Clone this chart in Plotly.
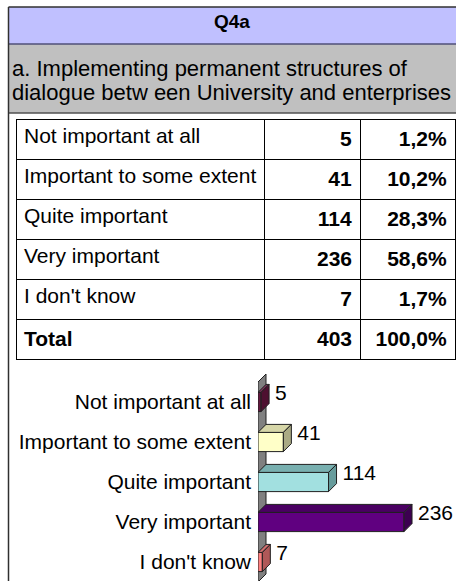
import plotly.graph_objects as go

W, H = 456, 581

# data
title = "Q4a"
subtitle_lines = ["a. Implementing permanent structures of",
                  "dialogue betw een University and enterprises"]
categories = ["Not important at all", "Important to some extent",
              "Quite important", "Very important", "I don't know"]
counts = [5, 41, 114, 236, 7]
front_colors = ["#64183F", "#FFFFC8", "#A2E0E0", "#600080", "#FF8080"]
top_colors = ["#7A3358", "#D6D6A8", "#79B0B0", "#4A0062", "#D07070"]
side_colors = ["#4E1030", "#AAAA84", "#679C9C", "#3C0050", "#B05858"]

total = sum(counts)
pct = [f"{c / total * 100:.1f}".replace(".", ",") + "%" for c in counts]
pct_total = "100,0%"

FONT = "Arial, Liberation Sans, sans-serif"


def py(px):
    # pixel row from top -> paper y
    return 1 - px / H


def px_x(px):
    return px / W


fig = go.Figure()

# ---- table (first data row goes in the header slot so no extra band shows) ----
# non-breaking spaces keep plotly from wrapping the long label
col_labels = [c.replace(" ", "\u00a0") for c in categories] + ["<b>Total</b>"]
col_counts = [f"<b>{c}</b>" for c in counts] + [f"<b>{total}</b>"]
col_pct = [f"<b>{p}</b>" for p in pct] + [f"<b>{pct_total}</b>"]
cols = [col_labels, col_counts, col_pct]
cell_style = dict(align=["left", "right", "right"], height=40,
                  fill_color="white",
                  line=dict(color="black", width=1),
                  font=dict(family=FONT, size=21, color="black"))
fig.add_trace(go.Table(
    domain=dict(x=[px_x(16), px_x(455)], y=[py(361), py(119)]),
    columnwidth=[248, 96, 95],
    header=dict(values=[c[0] for c in cols], **cell_style),
    cells=dict(values=[c[1:] for c in cols], **cell_style),
))

# ---- 3d bar chart ----
xmax = 320
plot_x0 = 258
ppu = (W - plot_x0) / xmax
depth_px = 8
dx = depth_px / ppu
dy = depth_px / 40
bw = 0.48
ys = list(range(len(categories)))

for i, (v, ct, cs) in enumerate(zip(counts, top_colors, side_colors)):
    yt = i - bw / 2
    yb = i + bw / 2
    fig.add_trace(go.Scatter(
        x=[0, dx, v + dx, v, 0], y=[yt, yt - dy, yt - dy, yt, yt],
        fill="toself", fillcolor=ct, mode="lines",
        line=dict(color="#202020", width=1), hoverinfo="skip"))
    fig.add_trace(go.Scatter(
        x=[v, v + dx, v + dx, v, v], y=[yt, yt - dy, yb - dy, yb, yt],
        fill="toself", fillcolor=cs, mode="lines",
        line=dict(color="#202020", width=1), hoverinfo="skip"))

fig.add_trace(go.Bar(
    x=counts, y=ys, orientation="h", width=bw,
    marker=dict(color=front_colors, line=dict(color="#202020", width=1)),
    hoverinfo="skip"))

gap = 6 / ppu
fig.add_trace(go.Scatter(
    x=[v + dx + gap for v in counts], y=[i - 0.18 for i in ys],
    mode="text", text=[str(v) for v in counts], textposition="middle right",
    textfont=dict(family=FONT, size=21, color="black"), hoverinfo="skip",
    cliponaxis=False))

# axis wall
fig.add_shape(type="path", xref="x", yref="y", layer="below",
              path=f"M 0,4.5 L 0,-0.5 L {dx},-0.7 L {dx},4.3 Z",
              fillcolor="#808080", line=dict(color="#202020", width=1))

fig.update_xaxes(domain=[px_x(plot_x0), 1], range=[0, xmax], visible=False,
                 fixedrange=True)
fig.update_yaxes(domain=[0, py(372)], range=[4.475, -0.75],
                 tickvals=ys, ticktext=categories, showgrid=False,
                 zeroline=False, showline=False, ticks="",
                 ticklabelstandoff=6,
                 tickfont=dict(family=FONT, size=21, color="black"),
                 automargin=False)

# ---- frame, header bands ----
fig.add_shape(type="rect", xref="paper", yref="paper", layer="below",
              x0=px_x(8.5), x1=1.01, y0=py(44), y1=py(7),
              fillcolor="#C0C0FF", line=dict(width=0))
fig.add_shape(type="rect", xref="paper", yref="paper", layer="below",
              x0=px_x(8.5), x1=1.01, y0=py(113), y1=py(44),
              fillcolor="#C0C0C0", line=dict(width=0))
for yy, col in [(7, "#303030"), (44, "#505078"), (113, "#505050")]:
    fig.add_shape(type="line", xref="paper", yref="paper",
                  x0=px_x(8.5), x1=1.01, y0=py(yy), y1=py(yy),
                  line=dict(color=col, width=1.5))
fig.add_shape(type="line", xref="paper", yref="paper",
              x0=px_x(8.5), x1=px_x(8.5), y0=0, y1=py(7),
              line=dict(color="#303030", width=1.5))

fig.add_annotation(xref="paper", yref="paper", x=px_x(232), y=py(21),
                   text=f"<b>{title}</b>", showarrow=False,
                   font=dict(family=FONT, size=19, color="black"),
                   xanchor="center", yanchor="middle")
for k, line in enumerate(subtitle_lines):
    fig.add_annotation(xref="paper", yref="paper", x=px_x(10), y=py(69 + 23 * k),
                       text=line, showarrow=False,
                       font=dict(family=FONT, size=22, color="black"),
                       xanchor="left", yanchor="middle")

fig.update_layout(width=W, height=H, margin=dict(l=0, r=0, t=0, b=0),
                  paper_bgcolor="white", plot_bgcolor="rgba(0,0,0,0)",
                  showlegend=False, barmode="overlay")

# drop the browser's default 8px body margin so the figure sits at the window's corner
fig.write_html("out.html", config={"displayModeBar": False},
               post_script="document.body.style.margin='0';document.body.style.overflow='hidden';")
